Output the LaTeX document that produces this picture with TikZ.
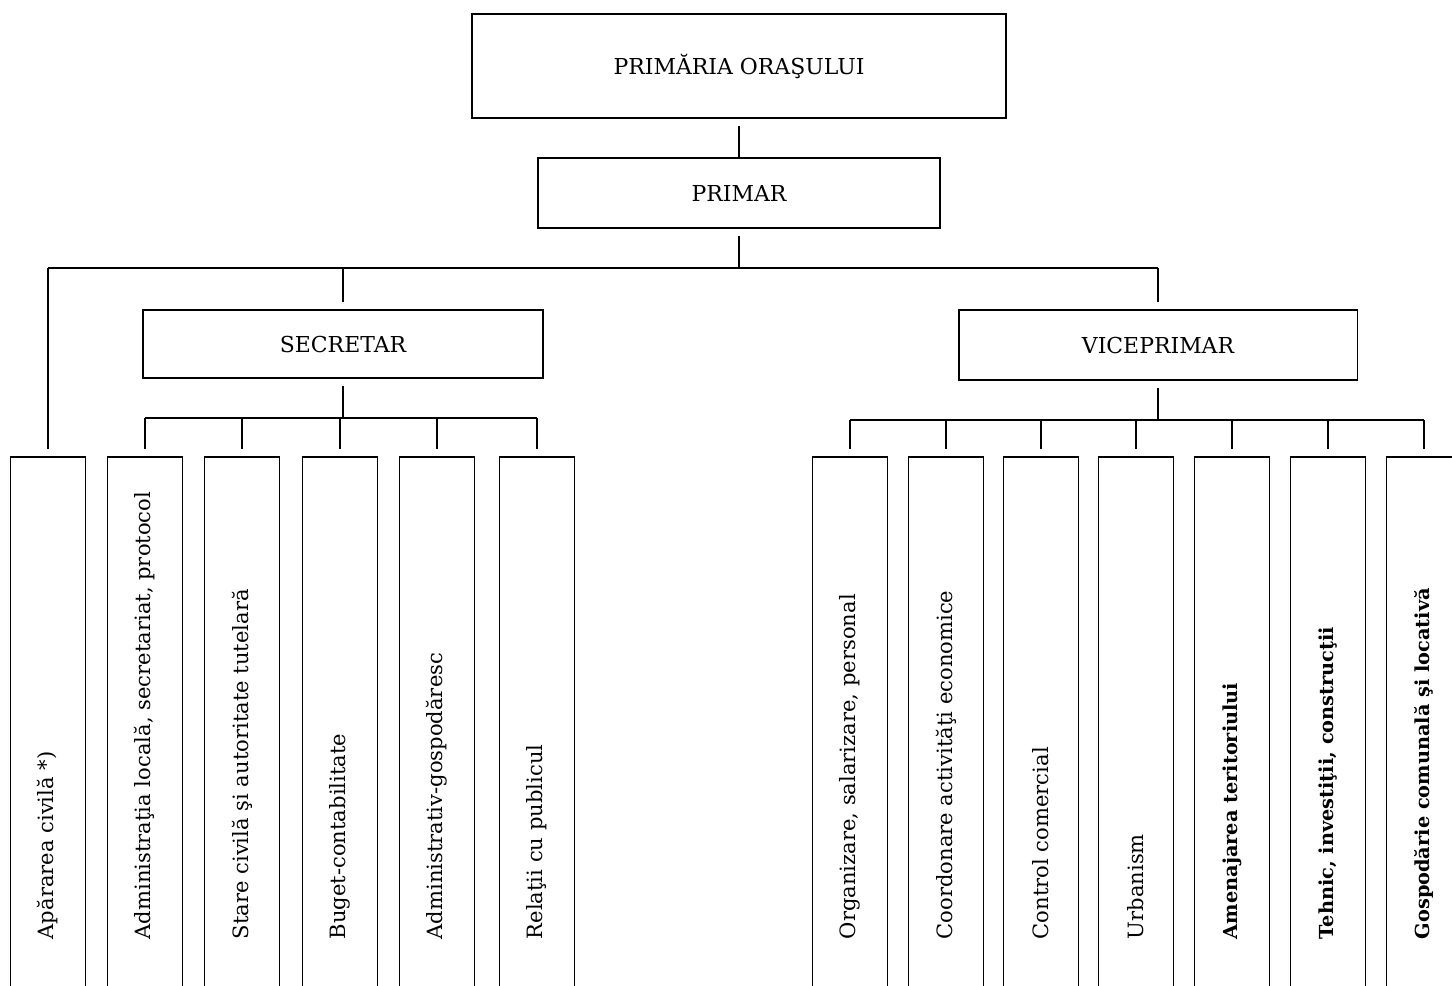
\documentclass[tikz,border=0pt]{standalone}
\usepackage{fontspec}
\setmainfont{DejaVu Serif}
\usetikzlibrary{calc}

\tikzset{
 box/.style={draw, line width=1.1pt, inner sep=0pt, font=\fontsize{12.5}{14}\selectfont},
 unit/.style={draw, line width=1.1pt, anchor=north, minimum width=1.5cm, minimum height=11cm, inner sep=0pt},
 unittext/.style={rotate=90, anchor=west, inner sep=0pt, font=\fontsize{12}{14}\selectfont},
 down/.style={shorten <=4pt},
 drop/.style={shorten >=4pt},
}

\begin{document}
\begin{tikzpicture}[x=0.02cm, y=-0.02cm, line width=0.9pt]
 \clip (0,0) rectangle (1452,985);
 \node[box, minimum width=10.68cm, minimum height=2.08cm] (primaria) at (739,66) {PRIMĂRIA ORAŞULUI};
 \node[box, minimum width=8.04cm, minimum height=1.4cm] (primar) at (739,193) {PRIMAR};
 \node[box, minimum width=8cm, minimum height=1.36cm] (secretar) at (343,344) {SECRETAR};
 \node[box, minimum width=7.98cm, minimum height=1.4cm] (viceprimar) at (1158,345) {VICEPRIMAR};
 \foreach \x/\t [count=\i] in {48/{Apărarea civilă *)}, 145/{Administraţia locală, secretariat, protocol},
   242/{Stare civilă şi autoritate tutelară}, 340/{Buget-contabilitate},
   437/{Administrativ-gospodăresc}, 537/{Relaţii cu publicul}}{
  \node[unit] (a\i) at (\x,456) {};
  \node[unittext] (ta\i) at (\x,940) {\t};%secretar
 }
 \foreach \x/\t [count=\i] in {850/{Organizare, salarizare, personal}, 946/{Coordonare activităţi economice},
   1041/{Control comercial}, 1136/{Urbanism}, 1232/{\fontsize{11}{13}\selectfont\bfseries Amenajarea teritoriului},
   1328/{\fontsize{11}{13}\selectfont\bfseries Tehnic, investiţii, construcţii},
   1424/{\fontsize{11}{13}\selectfont\bfseries Gospodărie comunală şi locativă}}{
  \node[unit] (b\i) at (\x,456) {};
  \node[unittext] (tb\i) at (\x,940) {\t};%viceprimar
 }
 \coordinate (bus) at (739,268);
 \coordinate (sbus) at (343,418);
 \coordinate (vbus) at (1158,420);
 \draw[down] (primaria) -- (primar);
 \draw[down] (primar) -- (bus);
 \draw (a1.north |- bus) -- (viceprimar.north |- bus);
 \draw[drop] (a1.north |- bus) -- (a1);
 \draw[drop] (secretar.north |- bus) -- (secretar);
 \draw[drop] (viceprimar.north |- bus) -- (viceprimar);
 \draw[down] (secretar) -- (sbus);
 \draw (a2.north |- sbus) -- (a6.north |- sbus);
 \foreach \i in {2,...,6} \draw[drop] (a\i.north |- sbus) -- (a\i);
 \draw[down] (viceprimar) -- (vbus);
 \draw (b1.north |- vbus) -- (b7.north |- vbus);
 \foreach \i in {1,...,7} \draw[drop] (b\i.north |- vbus) -- (b\i);
\end{tikzpicture}
\end{document}
